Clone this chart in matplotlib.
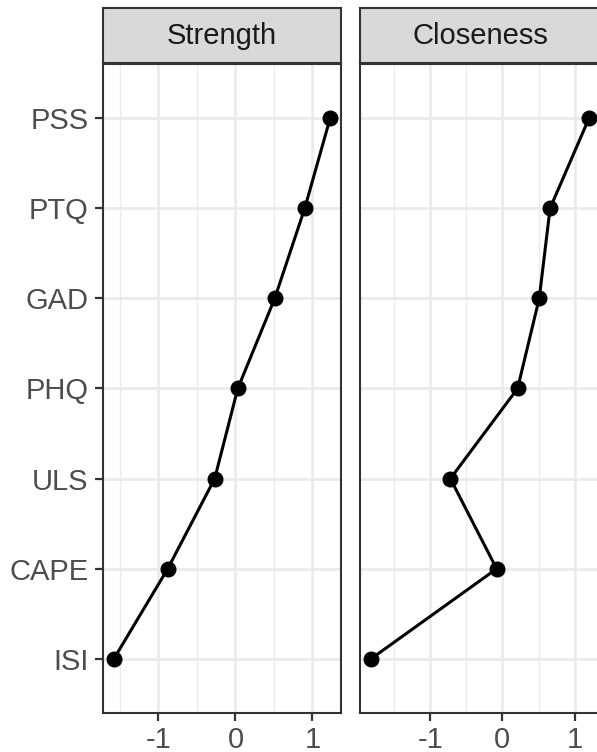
import matplotlib
matplotlib.use("Agg")
import matplotlib.pyplot as plt
import numpy as np

plt.rcParams['font.family'] = ['Liberation Sans', 'DejaVu Sans']

labels = ["ISI", "CAPE", "ULS", "PHQ", "GAD", "PTQ", "PSS"]
strength = [-1.58, -0.88, -0.27, 0.03, 0.51, 0.90, 1.23]
closeness = [-1.82, -0.08, -0.72, 0.21, 0.51, 0.66, 1.20]
panels = [("Strength", strength), ("Closeness", closeness)]

W, H = 597, 752
fig = plt.figure(figsize=(W / 100, H / 100), dpi=100)

boxes = [(103, 341), (360, 600)]
top, bottom = 64, 713
strip_top = 8

ypos = np.arange(1, len(labels) + 1)

for i, ((title, vals), (x0, x1)) in enumerate(zip(panels, boxes)):
    ax = fig.add_axes([x0 / W, 1 - bottom / H, (x1 - x0) / W, (bottom - top) / H])
    vals = np.array(vals)
    lo, hi = vals.min(), vals.max()
    pad = (hi - lo) * 0.05
    ax.set_xlim(lo - pad, hi + pad)
    ax.set_ylim(0.4, len(labels) + 0.6)

    # grid
    for xm in np.arange(-2.5, 2.6, 1.0):
        ax.axvline(xm, color='#EBEBEB', lw=1.0, zorder=0)
    for xM in [-2, -1, 0, 1, 2]:
        ax.axvline(xM, color='#EBEBEB', lw=2.0, zorder=0)
    for y in ypos:
        ax.axhline(y, color='#EBEBEB', lw=2.0, zorder=0)

    ax.plot(vals, ypos, color='black', lw=2.2, zorder=3)
    ax.plot(vals, ypos, 'o', color='black', ms=10.5, zorder=4)

    ax.set_xticks([-1, 0, 1])
    ax.set_xticklabels(["-1", "0", "1"])
    ax.set_yticks(ypos)
    ax.tick_params(axis='both', colors='#333333', width=1.6, length=5.5,
                   labelsize=21, labelcolor='#4D4D4D', pad=5)
    ax.tick_params(axis='x', pad=3.5)
    if i == 0:
        ax.set_yticklabels(labels)
    else:
        ax.set_yticklabels([])
        ax.tick_params(axis='y', length=0)
    for sp in ax.spines.values():
        sp.set_color('#333333')
        sp.set_linewidth(1.5)

    # strip
    sax = fig.add_axes([x0 / W, 1 - (top - 1) / H, (x1 - x0) / W, (top - 1 - strip_top) / H])
    sax.set_facecolor('#D9D9D9')
    sax.set_xticks([])
    sax.set_yticks([])
    for sp in sax.spines.values():
        sp.set_color('#333333')
        sp.set_linewidth(1.5)
    sax.text(0.5, 0.5, title, ha='center', va='center', fontsize=21,
             color='#1A1A1A', transform=sax.transAxes)

fig.savefig("out.png", dpi=100)
